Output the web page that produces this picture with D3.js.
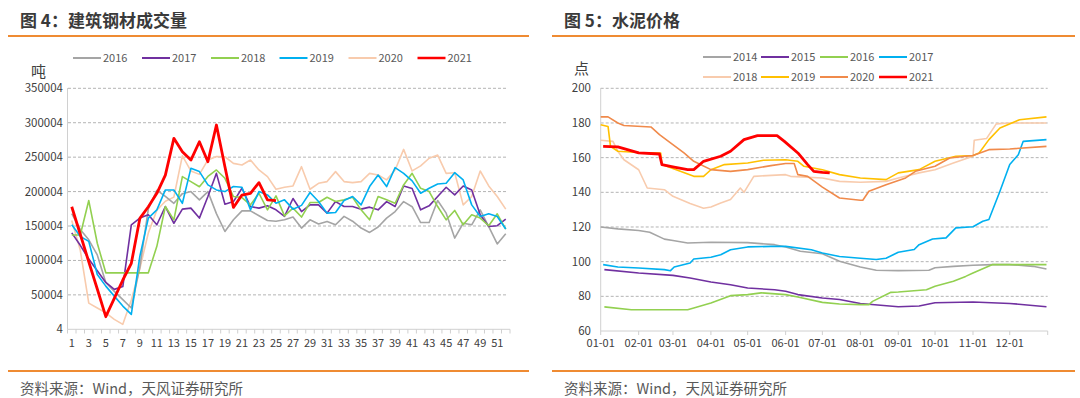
<!DOCTYPE html>
<html><head><meta charset="utf-8">
<script src="https://cdn.jsdelivr.net/npm/d3@7"></script>
<style>
html,body{margin:0;padding:0;background:#fff;}
svg{display:block;font-family:"Noto Sans CJK SC","Liberation Sans",sans-serif;}
</style></head>
<body><svg id="c" width="1080" height="398"></svg>
<script>
// ---------- Figure 4: construction steel weekly volume (tons) ----------
const weeks = d3.range(1, 53);
const steelYTicks = [4, 50004, 100004, 150004, 200004, 250004, 300004, 350004];
const steelXLabels = d3.range(1, 53, 2);
const steelYears = ["2016", "2017", "2018", "2019", "2020", "2021"];
const steel2016 = [168000,145000,130000,108000,68000,55000,43000,31000,90000,175000,202000,193000,183000,197000,200000,188000,200000,168000,142000,159000,172000,172000,165000,158000,157000,159000,163000,147000,159000,153000,156700,151800,164000,157000,147000,140700,148500,161500,171000,185500,178000,155000,155000,187000,168700,132500,154000,151800,173500,149000,124000,138800];
const steel2017 = [140000,122000,102000,85000,68000,58000,62000,151800,161500,166300,151800,178300,154000,174500,176000,161500,192800,226500,181700,185500,204800,178300,176000,179300,173500,164000,190000,171000,180700,180700,168700,185500,178300,178300,174500,177400,173500,185500,178300,208200,204400,173500,179300,192800,206300,195200,208200,202400,166300,149400,150400,160000];
const steel2018 = [137000,137000,187000,125000,82000,82000,82000,82000,82000,82000,120500,178300,159000,221700,214500,207000,222000,231400,219300,192800,191300,180700,197600,173500,193700,164800,176000,163000,184100,184100,191800,185500,188000,191800,173500,159000,192800,188000,183000,209700,226500,204800,200000,178300,159000,172600,151800,166300,161500,150400,167700,145600];
const steel2019 = [151800,135000,127700,79500,62700,48200,33700,21700,106000,161500,173500,202400,202400,183000,233800,229000,209700,202400,200000,207300,206300,173500,200000,195200,183000,188000,174500,180000,198600,185500,168700,169700,187000,192800,180700,207300,224000,207300,234700,226500,215500,197600,204800,211000,212000,227500,217000,180700,163900,167700,163900,145600];
const steel2020 = [158000,115000,38000,31000,24000,14500,7200,42500,88000,140000,173000,186000,192000,252000,230000,225000,246000,251000,250600,241000,238600,245800,231400,221700,203400,206300,208200,236200,203400,212000,214500,229000,214500,213000,214500,226500,224000,217000,231400,261300,230000,237300,248400,253000,226500,227400,180700,192800,229900,208200,192800,174500];
const steel2021 = [178000,138000,98000,58500,18300,45000,71600,95800,161000,178000,197500,224000,277300,258000,245800,272400,243400,296700,236000,177000,195000,197500,213000,188000,187000];

// ---------- Figure 5: cement price index ----------
const cementYTicks = [60, 80, 100, 120, 140, 160, 180, 200];
const cementMonths = ["01-01","02-01","03-01","04-01","05-01","06-01","07-01","08-01","09-01","10-01","11-01","12-01"];
const cementYears = ["2014","2015","2016","2017","2018","2019","2020","2021"];
const cement2014 = [["01-01",120],["01-15",118.9],["02-01",118],["02-10",117],["02-22",113],["03-01",112.2],["03-13",110.8],["04-01",111.2],["05-01",111],["05-23",109.8],["06-01",108.5],["06-13",106],["07-01",104.6],["07-15",100.2],["08-01",96.9],["08-14",95],["09-01",94.8],["09-26",95],["10-01",96.5],["10-16",97.3],["11-01",97.9],["11-17",98.3],["12-01",98.3],["12-20",97.3],["12-31",95.8]];
const cement2015 = [["01-04",95.4],["02-01",93.5],["03-01",92.1],["03-15",90.6],["04-01",88.3],["04-17",86.7],["05-01",84.8],["05-23",83.8],["06-01",82.9],["06-11",81],["07-01",79],["07-15",78.2],["08-01",75.9],["08-08",75.4],["09-01",74],["09-18",74.4],["10-01",76.3],["11-01",76.7],["12-01",75.9],["12-31",74]];
const cement2016 = [["01-04",73.9],["01-26",72.3],["03-13",72.3],["03-18",73.3],["04-01",76.2],["04-17",80.4],["05-01",81],["05-12",82],["06-01",81],["06-11",79.6],["07-01",76.5],["07-15",75.6],["08-01",75.2],["08-08",75.2],["08-11",77.1],["08-26",82.3],["09-01",82.5],["09-24",83.8],["10-01",85.8],["10-16",88.7],["10-26",91.5],["11-01",93.5],["11-17",98.3],["12-01",98.3],["12-31",98.3]];
const cement2017 = [["01-03",98.3],["01-15",96.9],["02-01",96.3],["02-22",95.4],["02-27",94.8],["03-02",96.9],["03-15",99.2],["03-18",101.5],["04-01",102.5],["04-09",104],["04-17",106.9],["05-01",108.5],["05-20",108.8],["06-01",108.8],["06-22",106.9],["07-01",105],["07-15",103],["08-01",102],["08-14",101.2],["08-22",102],["09-01",105.4],["09-14",107],["09-18",109.8],["09-29",113.1],["10-10",113.7],["10-18",119.5],["11-01",120.1],["11-09",123.3],["11-14",124.3],["11-23",140.6],["12-01",156],["12-08",161.7],["12-12",169.4],["12-31",170.4]];
const cement2018 = [["01-01",170],["01-11",169.4],["01-15",163.7],["01-20",158.8],["02-01",153],["02-08",142.5],["02-22",141.5],["03-01",137.7],["03-15",133.5],["03-26",130.8],["04-01",131.5],["04-09",133.8],["04-17",135.8],["04-25",142.5],["04-28",140],["05-06",149.2],["06-01",150.2],["06-05",149.2],["07-01",148.3],["07-15",146.3],["08-01",145.8],["08-22",146.3],["09-01",148.3],["09-18",151.2],["10-01",153],["10-16",156.9],["11-01",160.8],["11-02",170],["11-12",171],["11-20",179.5],["12-01",180],["12-31",180]];
const cement2019 = [["01-01",179],["01-07",178],["01-09",166.5],["01-15",163.7],["02-01",163],["02-19",162.7],["02-20",156],["03-07",152.1],["03-18",149.2],["03-26",149.2],["04-01",153],["04-12",156],["05-01",156.9],["05-14",158.5],["06-01",158.8],["06-11",157.9],["06-16",155],["07-01",153],["07-15",150.2],["08-01",148.3],["08-22",147.3],["09-01",151.2],["09-18",153.1],["10-01",157.9],["10-18",160.8],["11-01",161.2],["11-06",162.7],["11-14",170.4],["11-23",177.1],["12-09",181.9],["12-31",183.5]];
const cement2020 = [["01-01",183.5],["01-07",183.5],["01-15",180],["01-20",178.5],["02-11",177.7],["02-18",173.3],["02-27",168.5],["03-10",162.7],["03-18",157.9],["04-01",153.1],["04-17",152.1],["05-01",153.1],["05-20",155.4],["06-01",156.6],["06-08",156.6],["06-11",150.2],["06-19",149.2],["07-01",143],["07-15",136.7],["08-01",135.4],["08-03",135.4],["08-08",140.6],["08-22",144.4],["09-07",148.3],["09-15",152.1],["10-01",155],["10-13",159.8],["11-01",161.2],["11-14",164.6],["12-01",165],["12-31",166.5]];
const cement2021 = [["01-03",166.5],["01-15",166.2],["02-01",162.7],["02-18",162.1],["02-20",156],["03-02",154.6],["03-13",153.1],["03-18",153.1],["03-26",157.9],["04-09",160.8],["04-17",163.7],["04-28",170.4],["05-09",172.7],["05-25",172.7],["05-31",169.4],["06-11",162.7],["06-19",156],["06-24",152.1],["07-01",151.5],["07-07",151.2]];

// ---------- styles ----------
const steelColors = ["#A5A5A5","#7030A0","#92D050","#00B0F0","#F8CBAD","#FF0000"];
const cementColors = ["#A5A5A5","#7030A0","#92D050","#00B0F0","#F8CBAD","#FFC000","#F08A4B","#FF0000"];
const ORANGE = "#EF8B32", TXT = "#404040", GRID = "#B4B4B4", AXIS = "#D0D0D0";

const svg = d3.select("#c");

// frame: titles, rules, sources
function frame(x0, x1, tx, title) {
  svg.append("text").attr("x", tx).attr("y", 27).attr("font-size", 17).attr("font-weight", 700)
    .attr("fill", "#3A3A3A").text(title);
  svg.append("line").attr("x1", x0).attr("x2", x1).attr("y1", 36).attr("y2", 36)
    .attr("stroke", ORANGE).attr("stroke-width", 2);
  svg.append("line").attr("x1", x0).attr("x2", x1).attr("y1", 371).attr("y2", 371)
    .attr("stroke", ORANGE).attr("stroke-width", 2);
  svg.append("text").attr("x", tx).attr("y", 394).attr("font-size", 14.5).attr("fill", "#595959")
    .text("资料来源：Wind，天风证券研究所");
}
frame(8, 529, 20, "图 4：建筑钢材成交量");
frame(552, 1075, 564, "图 5：水泥价格");

function legend(items, colors, xs, ys) {
  items.forEach((name, i) => {
    const x = xs[i], y = ys[i];
    const w = name === "2021" ? 2.5 : 2;
    svg.append("line").attr("x1", x).attr("x2", x + 28).attr("y1", y).attr("y2", y)
      .attr("stroke", colors[i]).attr("stroke-width", w);
    svg.append("text").attr("x", x + 30).attr("y", y + 4).attr("font-size", 11).attr("fill", "#595959").text(name);
  });
}

// ================= LEFT CHART =================
{
  const x = d3.scaleBand().domain(weeks).range([67.5, 510]);
  const y = d3.scaleLinear().domain([4, 350004]).range([329.3, 88.3]);
  const g = svg.append("g");
  // grid
  g.selectAll(".gl").data(steelYTicks.slice(1)).join("line")
    .attr("x1", 68).attr("x2", 508).attr("y1", d => y(d)).attr("y2", d => y(d))
    .attr("stroke", GRID).attr("stroke-dasharray", "3,2").attr("stroke-width", 1);
  // y labels
  g.selectAll(".yl").data(steelYTicks).join("text")
    .attr("x", 63).attr("y", d => y(d) + 4).attr("text-anchor", "end")
    .attr("font-size", 11.5).attr("fill", TXT).text(d => d);
  // axes
  g.append("line").attr("x1", 67.5).attr("x2", 67.5).attr("y1", 88).attr("y2", 329.3).attr("stroke", AXIS);
  g.append("line").attr("x1", 67.5).attr("x2", 510).attr("y1", 329.3).attr("y2", 329.3).attr("stroke", AXIS);
  g.selectAll(".xt").data(weeks.concat([53])).join("line")
    .attr("x1", d => d === 53 ? 510 : x(d)).attr("x2", d => d === 53 ? 510 : x(d))
    .attr("y1", 329.3).attr("y2", 333.5).attr("stroke", AXIS);
  g.selectAll(".xl").data(steelXLabels).join("text")
    .attr("x", d => x(d) + x.bandwidth() / 2).attr("y", 347).attr("text-anchor", "middle")
    .attr("font-size", 11).attr("fill", TXT).text(d => d);
  g.append("text").attr("x", 31).attr("y", 77).attr("font-size", 15).attr("fill", TXT).text("吨");

  const series = [steel2016, steel2017, steel2018, steel2019, steel2020, steel2021];
  const line = d3.line().x((d, i) => x(weeks[i]) + x.bandwidth() / 2).y(d => y(d));
  const order = [4, 0, 1, 2, 3, 5];
  order.forEach(k => {
    g.append("path").attr("d", line(series[k])).attr("fill", "none")
      .attr("stroke", steelColors[k]).attr("stroke-width", k === 5 ? 2.8 : 1.6)
      .attr("stroke-linejoin", "round");
  });
  legend(steelYears, steelColors, [73, 142, 211, 279.5, 348.5, 417.5], [58, 58, 58, 58, 58, 58]);
}

// ================= RIGHT CHART =================
{
  const parse = d3.timeParse("%Y-%m-%d");
  const x = d3.scaleTime().domain([parse("2021-01-01"), parse("2022-01-01")]).range([600.7, 1047.7]);
  const y = d3.scaleLinear().domain([60, 200]).range([331, 88.3]);
  const g = svg.append("g");
  g.selectAll(".gl").data(cementYTicks.slice(1)).join("line")
    .attr("x1", 600.7).attr("x2", 1047.7).attr("y1", d => y(d)).attr("y2", d => y(d))
    .attr("stroke", GRID).attr("stroke-dasharray", "3,2");
  g.selectAll(".yl").data(cementYTicks).join("text")
    .attr("x", 591).attr("y", d => y(d) + 4).attr("text-anchor", "end")
    .attr("font-size", 11.5).attr("fill", TXT).text(d => d);
  g.append("line").attr("x1", 600.7).attr("x2", 600.7).attr("y1", 88).attr("y2", 331).attr("stroke", AXIS);
  g.append("line").attr("x1", 600.7).attr("x2", 1047.7).attr("y1", 331).attr("y2", 331).attr("stroke", AXIS);
  const tickDates = cementMonths.map(m => parse("2021-" + m)).concat([parse("2022-01-01")]);
  g.selectAll(".xt").data(tickDates).join("line")
    .attr("x1", d => x(d)).attr("x2", d => x(d)).attr("y1", 331).attr("y2", 335).attr("stroke", AXIS);
  g.selectAll(".xl").data(cementMonths).join("text")
    .attr("x", m => x(parse("2021-" + m))).attr("y", 347).attr("text-anchor", "middle")
    .attr("font-size", 11).attr("fill", TXT).text(m => m);
  g.append("text").attr("x", 574).attr("y", 74).attr("font-size", 15).attr("fill", TXT).text("点");

  const series = [cement2014, cement2015, cement2016, cement2017, cement2018, cement2019, cement2020, cement2021];
  const line = d3.line().x(d => x(parse("2021-" + d[0]))).y(d => y(d[1]));
  series.forEach((s, k) => {
    g.append("path").attr("d", line(s)).attr("fill", "none")
      .attr("stroke", cementColors[k]).attr("stroke-width", k === 7 ? 2.8 : 1.6)
      .attr("stroke-linejoin", "round");
  });
  legend(cementYears, cementColors, [703, 761, 820, 879, 703, 761, 820, 879], [57, 57, 57, 57, 77, 77, 77, 77]);
}
</script></body></html>
